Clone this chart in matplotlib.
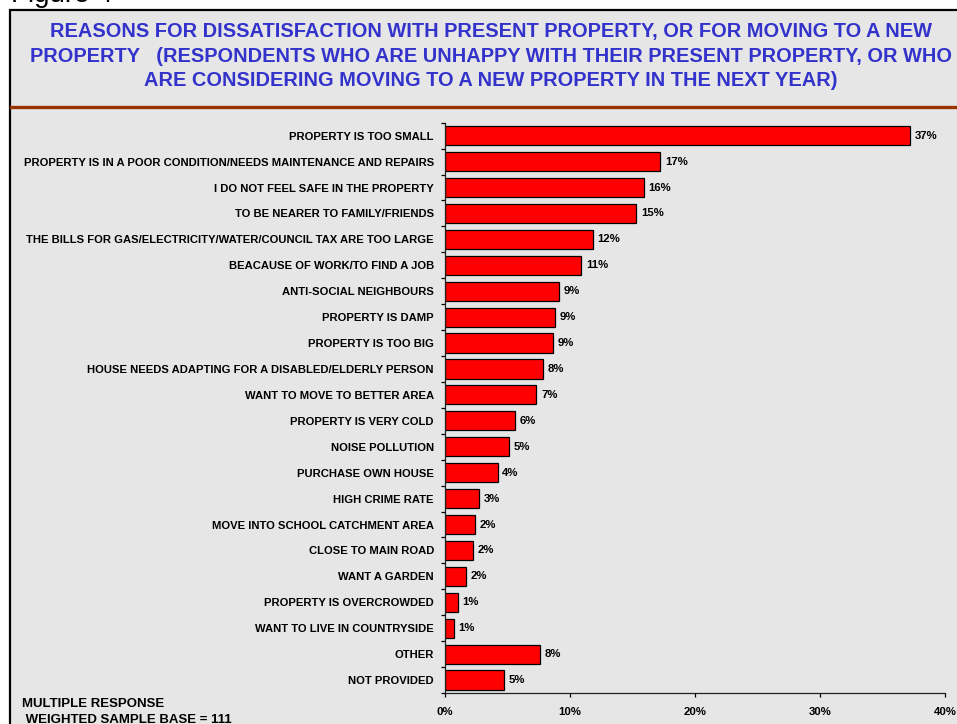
import matplotlib.pyplot as plt
import matplotlib.patches as patches
from matplotlib.lines import Line2D
import numpy as np

reasons = [
    "PROPERTY IS TOO SMALL",
    "PROPERTY IS IN A POOR CONDITION/NEEDS MAINTENANCE AND REPAIRS",
    "I DO NOT FEEL SAFE IN THE PROPERTY",
    "TO BE NEARER TO FAMILY/FRIENDS",
    "THE BILLS FOR GAS/ELECTRICITY/WATER/COUNCIL TAX ARE TOO LARGE",
    "BEACAUSE OF WORK/TO FIND A JOB",
    "ANTI-SOCIAL NEIGHBOURS",
    "PROPERTY IS DAMP",
    "PROPERTY IS TOO BIG",
    "HOUSE NEEDS ADAPTING FOR A DISABLED/ELDERLY PERSON",
    "WANT TO MOVE TO BETTER AREA",
    "PROPERTY IS VERY COLD",
    "NOISE POLLUTION",
    "PURCHASE OWN HOUSE",
    "HIGH CRIME RATE",
    "MOVE INTO SCHOOL CATCHMENT AREA",
    "CLOSE TO MAIN ROAD",
    "WANT A GARDEN",
    "PROPERTY IS OVERCROWDED",
    "WANT TO LIVE IN COUNTRYSIDE",
    "OTHER",
    "NOT PROVIDED",
]
# percent of respondents (multiple response)
pct = [37.2, 17.2, 15.9, 15.3, 11.8, 10.9, 9.1, 8.8, 8.6, 7.8, 7.3,
       5.6, 5.1, 4.2, 2.7, 2.4, 2.2, 1.7, 1.0, 0.7, 7.6, 4.7]
x_ticks = [0, 10, 20, 30, 40]

title_lines = [
    "REASONS FOR DISSATISFACTION WITH PRESENT PROPERTY, OR FOR MOVING TO A NEW",
    "PROPERTY   (RESPONDENTS WHO ARE UNHAPPY WITH THEIR PRESENT PROPERTY, OR WHO",
    "ARE CONSIDERING MOVING TO A NEW PROPERTY IN THE NEXT YEAR)",
]

plt.rcParams["font.family"] = ["Liberation Sans", "DejaVu Sans"]

W, H = 957, 724
fig = plt.figure(figsize=(W / 100, H / 100), dpi=100)
fig.patch.set_facecolor("white")

# grey panel with black frame, running off the right and bottom edges
panel = patches.Rectangle((10 / W, -0.05), 1.1, 1 - 10 / H + 0.05,
                          transform=fig.transFigure, facecolor="#e6e6e6",
                          edgecolor="black", linewidth=1.6, zorder=-2)
fig.patches.append(panel)

fig.text(11 / W, 1 - 1.5 / H, "Figure 4", fontsize=20, color="black",
         ha="left", va="baseline")

for i, line in enumerate(title_lines):
    fig.text(491 / W, 1 - (32 + 24 * i) / H, line, fontsize=14.4,
             fontweight="bold", color="#3333cc", ha="center", va="center")

fig.add_artist(Line2D([11 / W, 1], [1 - 107 / H, 1 - 107 / H],
                      transform=fig.transFigure, color="#993300", linewidth=2.4))

ax = fig.add_axes([445 / W, 1 - 693 / H, 500 / W, (693 - 122.7) / H])
ax.set_facecolor("none")
ax.set_zorder(2)

y = np.arange(len(reasons))
ax.barh(y, pct, height=0.74, color="#ff0000", edgecolor="black", linewidth=0.9)

for yi, v in zip(y, pct):
    ax.annotate(f"{v:.0f}%", (v, yi), xytext=(3.5, 0), textcoords="offset points",
                ha="left", va="center", fontsize=8.2, fontweight="bold")

ax.set_ylim(len(reasons) - 0.5, -0.5)
ax.set_xlim(0, 40)

ax.set_yticks(y)
ax.set_yticklabels(reasons, fontsize=8.1, fontweight="bold")
ax.set_yticks(np.arange(-0.5, len(reasons)), minor=True)
ax.tick_params(axis="y", which="major", length=0, pad=8)
ax.tick_params(axis="y", which="minor", length=3, width=0.9, direction="out")

ax.set_xticks(x_ticks)
ax.set_xticklabels([f"{t}%" for t in x_ticks], fontsize=8.2, fontweight="bold")
ax.tick_params(axis="x", length=3, width=0.9, direction="out", pad=7)

for side in ("top", "right"):
    ax.spines[side].set_visible(False)
for side in ("left", "bottom"):
    ax.spines[side].set_linewidth(0.9)
    ax.spines[side].set_color("#222222")

fig.text(22 / W, 1 - 704 / H, "MULTIPLE RESPONSE", fontsize=9.5,
         fontweight="bold", ha="left", va="center")
fig.text(22 / W, 1 - 720 / H, " WEIGHTED SAMPLE BASE = 111", fontsize=9.5,
         fontweight="bold", ha="left", va="center")

fig.savefig("out.png", dpi=100)
